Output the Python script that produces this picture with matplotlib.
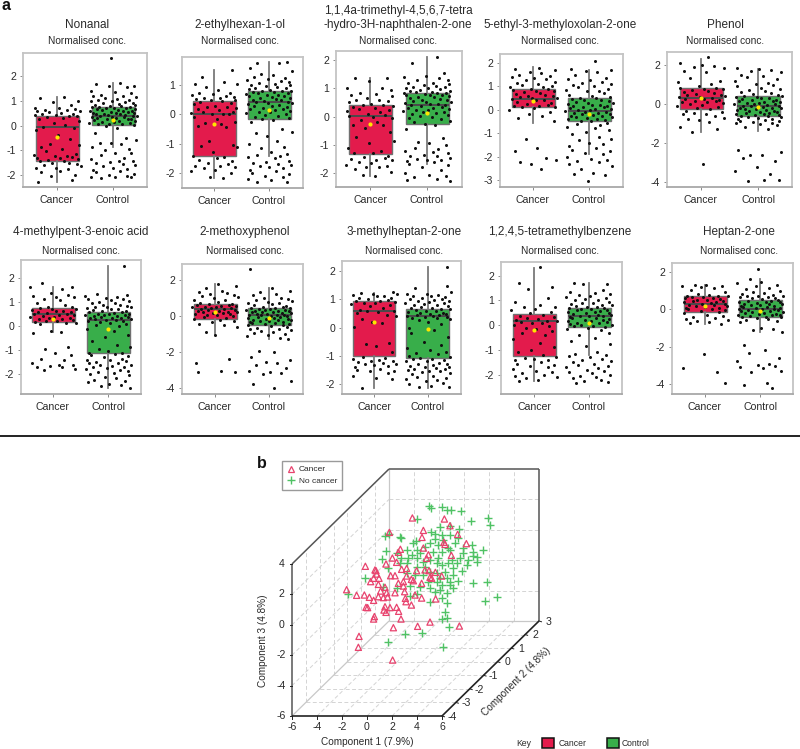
import matplotlib
matplotlib.use('Agg')
import matplotlib.pyplot as plt
from matplotlib.patches import Rectangle
from matplotlib.lines import Line2D

plt.rcParams['font.family'] = ['Liberation Sans', 'DejaVu Sans']
plt.rcParams['axes.unicode_minus'] = False

W, H = 800, 749
RED = '#E31B4C'
GREEN = '#38AE4A'
TEXT = '#2a2a2a'

titles = ['Nonanal', '2-ethylhexan-1-ol',
          '1,1,4a-trimethyl-4,5,6,7-tetra\n-hydro-3H-naphthalen-2-one',
          '5-ethyl-3-methyloxolan-2-one', 'Phenol',
          '4-methylpent-3-enoic acid', '2-methoxyphenol', '3-methylheptan-2-one',
          '1,2,4,5-tetramethylbenzene', 'Heptan-2-one']
groups = ['Cancer', 'Control']

# box stats, one value per panel
cancer_q1 = [-1.43, -1.41, -1.31, 0.11, -0.24, 0.17, -0.15, -1.01, -1.26, -0.13]
cancer_med = [-0.05, 0.0, 0.03, 0.46, 0.29, 0.51, 0.39, 0.59, 0.15, 0.32]
cancer_q3 = [0.40, 0.45, 0.42, 0.88, 0.82, 0.75, 0.67, 0.94, 0.44, 0.71]
cancer_lo = [-2.27, -2.18, -2.11, -0.57, -1.45, -0.26, -1.08, -2.14, -2.27, -0.79]
cancer_hi = [1.17, 1.53, 1.38, 1.81, 2.34, 1.65, 1.78, 1.21, 2.30, 1.34]
cancer_mean = [-0.47, -0.32, -0.25, 0.37, 0.29, 0.29, 0.22, 0.18, -0.19, 0.18]
control_q1 = [0.04, -0.14, -0.27, -0.50, -0.62, -1.14, -0.48, -1.08, -0.09, -0.39]
control_med = [0.39, 0.43, 0.42, -0.04, -0.10, 0.26, 0.07, 0.42, 0.35, 0.04]
control_q3 = [0.77, 0.81, 0.83, 0.50, 0.44, 0.61, 0.45, 0.66, 0.71, 0.50]
control_lo = [-0.85, -1.44, -1.66, -1.89, -1.38, -2.58, -1.28, -2.14, -1.19, -1.20]
control_hi = [1.72, 1.80, 2.11, 1.68, 1.83, 2.52, 1.56, 2.15, 1.69, 1.63]
control_mean = [0.22, 0.15, 0.12, -0.19, -0.14, -0.12, -0.13, -0.07, 0.08, -0.09]

yticks = [[-2, -1, 0, 1, 2], [-2, -1, 0, 1], [-2, -1, 0, 1, 2], [-3, -2, -1, 0, 1, 2], [-4, -2, 0, 2],
          [-2, -1, 0, 1, 2], [-4, -2, 0, 2], [-2, -1, 0, 1, 2], [-2, -1, 0, 1, 2], [-4, -2, 0, 2]]

# measured dots
nonanal_cancer = [1.17, 1.1, 1.0, .97, .85, .72, .7, .68, .65, .62, .6, .58, .55, .5, .48, .45, .43, .41, .4, .38,
                  .35, .3, .25, .18, .1, .02, -.04, -.08, -.2, -.4, -.55, -.75, -.8, -.88, -.95, -1.05, -1.15, -1.2,
                  -1.22, -1.25, -1.28, -1.3, -1.32, -1.35, -1.38, -1.42, -1.45, -1.5, -1.52, -1.55, -1.6, -1.65,
                  -1.7, -1.72, -1.78, -1.85, -1.9, -2.0, -2.05, -2.2, -2.28]
nonanal_control = [1.72, 1.68, 1.62, 1.6, 1.55, 1.4, 1.35, 1.32, 1.25, 1.2, 1.18, 1.15, 1.1, 1.08, 1.05, 1.03, 1.0,
                   .98, .95, .92, .9, .88, .85, .82, .8, .78, .76, .75, .74, .72, .7, .7, .68, .66, .65, .62, .6, .6,
                   .58, .55, .55, .52, .5, .5, .48, .46, .45, .44, .42, .4, .4, .38, .36, .35, .33, .32, .3, .28, .26,
                   .25, .22, .2, .18, .15, .13, .12, .1, .08, .06, .05, .03, 0, -.1, -.3, -.5, -.6, -.7, -.72, -.75,
                   -.85, -.95, -1.0, -1.1, -1.12, -1.2, -1.3, -1.35, -1.42, -1.45, -1.48, -1.5, -1.55, -1.6, -1.65,
                   -1.7, -1.75, -1.8, -1.85, -1.9, -1.95, -2.0, -2.05, -2.08, -2.1, -2.1, -2.12]
ethylhexanol_cancer = [1.53, 1.3, 1.1, 1.05, 1.03, .95, .85, .75, .72, .7, .68, .65, .6, .58, .55, .52, .5, .48, .45,
                       .42, .38, .35, .3, .27, .25, .22, .18, .15, .1, .08, .05, .03, .02, 0, -.1, -.15, -.25, -.3,
                       -.32, -.4, -.42, -.9, -1.05, -1.08, -1.1, -1.3, -1.42, -1.45, -1.5, -1.55, -1.6, -1.65, -1.7,
                       -1.75, -1.78, -1.8, -1.85, -1.9, -1.95, -2.0, -2.15, -2.18]
ethylhexanol_control = [1.8, 1.78, 1.75, 1.6, 1.5, 1.4, 1.35, 1.3, 1.25, 1.2, 1.18, 1.15, 1.1, 1.08, 1.05, 1.02, 1.0,
                        .98, .95, .92, .9, .88, .85, .82, .8, .8, .78, .76, .74, .72, .7, .68, .66, .65, .63, .6, .58,
                        .55, .52, .5, .48, .45, .44, .42, .4, .38, .35, .33, .3, .28, .25, .22, .2, .18, .15, .12, .1,
                        .08, .05, .02, -.02, -.05, -.08, -.12, -.15, -.18, -.25, -.5, -.6, -.65, -.75, -.9, -1.0, -1.1,
                        -1.15, -1.3, -1.35, -1.38, -1.42, -1.45, -1.5, -1.6, -1.62, -1.65, -1.7, -1.72, -1.75, -1.8,
                        -1.85, -1.9, -1.95, -2.0, -2.05, -2.1, -2.15, -2.2, -2.25, -2.3, -2.32]
naphthalenone_cancer = [1.38, 1.35, 1.25, 1.02, 1.0, .95, .85, .8, .75, .72, .65, .6, .58, .55, .5, .45, .42, .4, .38,
                        .35, .3, .28, .25, .2, .15, .1, .05, .03, 0, -.05, -.12, -.2, -.28, -.3, -.4, -.55, -.72, -.85,
                        -.92, -1.1, -1.2, -1.28, -1.3, -1.38, -1.42, -1.45, -1.5, -1.52, -1.55, -1.6, -1.65, -1.7, -1.75,
                        -1.78, -1.8, -1.85, -1.95, -2.05, -2.11]
naphthalenone_control = [1.9, 1.55, 1.45, 1.4, 1.35, 1.3, 1.28, 1.2, 1.18, 1.15, 1.1, 1.08, 1.05, 1.03, 1.02, 1.0, .98,
                         .95, .92, .9, .88, .86, .85, .83, .82, .8, .78, .76, .75, .72, .7, .68, .65, .62, .6, .58, .55,
                         .52, .5, .48, .45, .43, .42, .4, .38, .35, .32, .3, .28, .25, .22, .2, .18, .15, .12, .1, .05,
                         .02, 0, -.05, -.1, -.15, -.2, -.25, -.28, -.45, -.75, -.9, -.95, -1.0, -1.1, -1.15, -1.2, -1.25,
                         -1.3, -1.35, -1.38, -1.4, -1.45, -1.5, -1.52, -1.55, -1.58, -1.62, -1.66, -1.7, -1.78, -1.9,
                         -2.0, -2.05, -2.1, -2.15, -2.2, -2.25, -2.28]
oxolanone_cancer = [1.8, 1.75, 1.68, 1.6, 1.55, 1.5, 1.45, 1.4, 1.35, 1.3, 1.25, 1.2, 1.15, 1.1, 1.05, 1.02, .98, .95,
                    .9, .88, .85, .82, .8, .75, .72, .68, .65, .6, .58, .55, .5, .48, .46, .42, .4, .35, .3, .25, .2,
                    .18, .15, .12, .1, .08, 0, -.08, -.2, -.25, -.35, -.5, -1.27, -1.65, -1.75, -2.08, -2.15, -2.25,
                    -2.3, -2.55]
oxolanone_control = [2.1, 1.75, 1.7, 1.65, 1.6, 1.5, 1.35, 1.3, 1.25, 1.2, 1.15, 1.1, 1.05, 1.0, .95, .9, .85, .8, .78,
                     .72, .65, .6, .55, .5, .48, .45, .42, .4, .38, .35, .3, .28, .25, .22, .2, .18, .15, .12, .1, .08,
                     .05, .02, 0, -.03, -.05, -.08, -.1, -.12, -.15, -.18, -.2, -.22, -.25, -.28, -.3, -.32, -.35, -.38,
                     -.4, -.45, -.48, -.5, -.55, -.6, -.65, -.72, -.8, -.88, -.95, -1.05, -1.15, -1.25, -1.3, -1.4, -1.45,
                     -1.55, -1.62, -1.7, -1.75, -1.85, -1.9, -2.0, -2.1, -2.15, -2.2, -2.25, -2.3, -2.4, -2.55, -2.7,
                     -2.75, -2.8, -3.05]
phenol_cancer = [2.1, 2.0, 1.95, 1.9, 1.85, 1.7, 1.65, 1.35, 1.2, 1.15, 1.05, .95, .85, .82, .78, .75, .7, .65, .6,
                 .58, .52, .48, .45, .4, .38, .35, .3, .28, .25, .2, .18, .15, .12, .1, .05, 0, -.05, -.1, -.15, -.2,
                 -.25, -.35, -.4, -.45, -.5, -.52, -.6, -.7, -.75, -.82, -.9, -1.2, -1.3, -1.45, -3.1]
phenol_control = [1.85, 1.8, 1.75, 1.7, 1.65, 1.5, 1.45, 1.4, 1.3, 1.2, 1.1, 1.05, 1.0, .95, .85, .8, .72, .65, .6, .55,
                  .5, .46, .44, .42, .38, .35, .32, .3, .25, .22, .2, .18, .15, .12, .1, .08, .05, .02, 0, -.02, -.05,
                  -.08, -.1, -.12, -.15, -.18, -.2, -.22, -.25, -.28, -.3, -.32, -.35, -.38, -.4, -.42, -.45, -.48, -.5,
                  -.52, -.55, -.58, -.6, -.62, -.65, -.68, -.7, -.75, -.78, -.8, -.85, -.88, -.9, -.95, -1.0, -1.05, -1.1,
                  -1.2, -1.3, -2.35, -2.45, -2.6, -2.62, -2.8, -2.92, -3.25, -3.45, -3.6, -3.9, -3.95, -3.9]
methylpentenoic_cancer = [1.82, 1.65, 1.62, 1.55, 1.4, 1.3, 1.25, 1.22, 1.2, 1.15, 1.1, .95, .9, .82, .8, .76, .72, .7,
                          .68, .65, .62, .6, .58, .55, .52, .5, .48, .45, .42, .4, .38, .35, .32, .3, .28, .25, .22, .2,
                          .18, .15, .12, .1, -.2, -.25, -.28, -.85, -.95, -1.1, -1.2, -1.35, -1.4, -1.55, -1.6, -1.62,
                          -1.65, -1.7, -1.72, -1.78, -1.82]
methylpentenoic_control = [1.35, 1.3, 1.25, 1.2, 1.18, 1.15, 1.12, 1.1, 1.05, 1.0, .98, .95, .9, .88, .85, .82, .8, .78,
                           .75, .72, .7, .68, .65, .62, .6, .58, .55, .52, .5, .5, .48, .46, .45, .43, .42, .4, .38, .36,
                           .35, .33, .3, .28, .26, .25, .22, .2, .18, .15, .1, .05, 0, -.1, -.2, -.35, -.45, -.6, -.78,
                           -.85, -.95, -1.05, -1.1, -1.12, -1.15, -1.2, -1.25, -1.3, -1.35, -1.4, -1.42, -1.45, -1.5,
                           -1.52, -1.55, -1.6, -1.62, -1.65, -1.7, -1.72, -1.75, -1.8, -1.82, -1.85, -1.9, -1.95, -2.0,
                           -2.05, -2.1, -2.15, -2.25, -2.3, -2.35, -2.4, -2.45, -2.5, -2.58]
methoxyphenol_cancer = [1.78, 1.65, 1.55, 1.4, 1.35, 1.3, 1.2, 1.15, 1.1, 1.05, .98, .92, .88, .8, .72, .68, .65, .62, .6,
                        .58, .55, .52, .5, .48, .45, .42, .4, .38, .35, .32, .3, .28, .25, .22, .2, .18, .15, .12, .1,
                        .08, .05, 0, -.05, -.1, -.15, -.2, -.28, -.35, -.42, -.5, -.62, -.9, -1.08, -2.4, -2.6, -3.05,
                        -3.1, -3.1]
methoxyphenol_control = [1.55, 1.4, 1.35, 1.25, 1.15, 1.0, .98, .95, .9, .85, .8, .75, .7, .65, .6, .55, .5, .48, .46,
                         .44, .42, .4, .38, .36, .35, .33, .3, .28, .26, .25, .22, .2, .18, .15, .12, .1, .08, .06, .05,
                         .03, 0, -.02, -.05, -.08, -.1, -.12, -.15, -.18, -.2, -.22, -.25, -.28, -.3, -.32, -.35, -.38,
                         -.4, -.42, -.45, -.48, -.5, -.55, -.6, -.65, -.7, -.75, -.8, -.85, -.9, -.95, -1.0, -1.05, -1.1,
                         -1.2, -1.28, -1.95, -2.0, -2.3, -2.45, -2.55, -2.6, -2.75, -2.9, -3.05, -3.1, -3.2, -3.25, -3.6,
                         -3.8, -4.0]
methylheptanone_cancer = [1.25, 1.22, 1.2, 1.18, 1.15, 1.12, 1.1, 1.05, 1.03, 1.0, .98, .95, .92, .9, .88, .85, .82, .8,
                          .75, .7, .62, .6, .58, .55, .52, .45, .4, .3, .2, .15, .02, -.55, -.6, -.65, -.85, -1.05, -1.08,
                          -1.1, -1.15, -1.18, -1.2, -1.22, -1.25, -1.28, -1.3, -1.32, -1.35, -1.4, -1.45, -1.5, -1.52,
                          -1.55, -1.6, -1.7, -1.78, -1.82, -2.14]
methylheptanone_control = [1.45, 1.38, 1.25, 1.2, 1.18, 1.15, 1.12, 1.1, 1.08, 1.05, 1.02, 1.0, .98, .95, .92, .9, .88,
                           .85, .82, .8, .78, .75, .72, .7, .68, .66, .65, .63, .6, .58, .55, .52, .5, .48, .46, .45, .43,
                           .42, .4, .38, .36, .35, .33, .3, .25, .2, .12, 0, -.1, -.2, -.35, -.5, -.62, -.72, -.8, -.85, -.9,
                           -.95, -1.0, -1.05, -1.08, -1.1, -1.12, -1.15, -1.18, -1.2, -1.25, -1.28, -1.3, -1.32, -1.35, -1.38,
                           -1.4, -1.42, -1.45, -1.48, -1.5, -1.52, -1.55, -1.58, -1.6, -1.65, -1.7, -1.75, -1.78, -1.82,
                           -1.85, -1.88, -1.95, -2.0, -2.05, -2.1, -2.12]
tetramethylbenzene_cancer = [1.7, 1.55, 1.45, 1.1, .95, .8, .75, .72, .65, .6, .55, .48, .42, .38, .32, .28, .25, .2,
                             .18, .15, .12, .1, .08, .02, -.05, -.1, -.15, -.22, -.3, -.4, -.55, -.72, -.9, -1.0, -1.08,
                             -1.2, -1.28, -1.32, -1.35, -1.4, -1.42, -1.5, -1.55, -1.6, -1.65, -1.7, -1.78, -1.85, -1.88,
                             -1.95, -2.0, -2.05, -2.1, -2.15, -2.2, -2.27]
tetramethylbenzene_control = [1.69, 1.68, 1.65, 1.4, 1.35, 1.3, 1.25, 1.2, 1.18, 1.15, 1.1, 1.05, 1.02, 1.0, .95, .9, .88,
                              .85, .82, .8, .78, .75, .72, .7, .68, .66, .65, .62, .6, .58, .55, .52, .5, .48, .45, .42,
                              .4, .38, .36, .35, .33, .3, .28, .25, .22, .2, .18, .15, .12, .1, .08, .05, .02, 0, -.02,
                              -.05, -.08, -.1, -.15, -.2, -.3, -.4, -.5, -.65, -.75, -.85, -1.1, -1.15, -1.2, -1.25, -1.3,
                              -1.35, -1.4, -1.45, -1.5, -1.55, -1.6, -1.65, -1.7, -1.75, -1.8, -1.85, -1.9, -1.95, -2.0,
                              -2.05, -2.1, -2.15, -2.2, -2.25, -2.3, -2.35]
heptanone_cancer = [1.34, 1.32, 1.28, 1.25, 1.2, 1.15, 1.05, .95, .85, .8, .75, .72, .7, .68, .65, .62, .6, .55, .52, .5,
                    .48, .45, .42, .4, .35, .32, .3, .25, .22, .2, .18, .15, .1, .08, .05, 0, -.03, -.08, -.12, -.2, -.28,
                    -.35, -.4, -.45, -.5, -.55, -.6, -.65, -.72, -.79, -2.4, -3.15, -3.35, -3.98]
heptanone_control = [1.63, 1.5, 1.4, 1.3, 1.25, 1.15, 1.1, 1.0, .95, .9, .85, .8, .75, .72, .7, .68, .65, .62, .6, .55,
                     .5, .48, .45, .42, .4, .38, .35, .32, .3, .28, .25, .22, .2, .18, .15, .12, .1, .08, .05, .02, 0,
                     -.02, -.05, -.08, -.1, -.12, -.15, -.18, -.2, -.22, -.25, -.28, -.3, -.32, -.35, -.38, -.4, -.42, -.45,
                     -.5, -.55, -.6, -.65, -1.0, -1.05, -1.1, -1.2, -1.9, -2.2, -2.35, -2.6, -2.75, -2.95, -3.0, -3.05,
                     -3.1, -3.15, -3.3, -3.35, -3.95, -4.05, -4.25]

cancer_dots = [nonanal_cancer, ethylhexanol_cancer, naphthalenone_cancer, oxolanone_cancer, phenol_cancer,
               methylpentenoic_cancer, methoxyphenol_cancer, methylheptanone_cancer, tetramethylbenzene_cancer,
               heptanone_cancer]
control_dots = [nonanal_control, ethylhexanol_control, naphthalenone_control, oxolanone_control, phenol_control,
                methylpentenoic_control, methoxyphenol_control, methylheptanone_control, tetramethylbenzene_control,
                heptanone_control]

# sideways spread of the dots, shared by the panels
jitter = [.12, -.31, .37, -.08, .25, -.39, .03, .33, -.22, .18, -.35, .41, -.14, .07, -.27, .29, -.02, -.4, .21, .36,
          -.18, .1, -.33, .39, -.06, .15, -.25, .31, -.37, .01, .23, -.12, .4, -.29, .09, -.2, .34, -.41, .17, -.04,
          .27, -.36, .05, .38, -.16, .13, -.3, .22, -.09, .35, -.24, .42, -.01, -.38, .19, .06, -.28, .32, -.11, .26,
          -.34, .11, .39, -.19, .02, -.42, .3, -.07, .16, -.26, .37, -.13, .08, -.32, .24, .41, -.23, -.03, .14, -.37,
          .28, -.15, .04, .33, -.21, .2, -.39, .1, .36, -.05, -.3, .17, .4, -.17, .0, .25, -.35]

# dots that sit well clear of the rest: panel, group position, value
stray_panel = [0, 2, 4, 5, 6, 7, 8, 9]
stray_x = [1.96, 2.17, 1.12, 2.29, 1.65, 2.35, 1.11, 1.96]
stray_y = [2.72, 2.12, 2.4, 2.52, 2.6, 2.15, 2.35, 2.2]

cancer_c1 = [3.63, 6.19, 6.64, 4.51, 1.79, 7.25, 4.40, 6.16, 7.95, 6.24, 4.51, 2.67, 2.51, 4.91, 6.75, 2.03, 4.77, 2.37,
             1.52, -.13, .64, .72, 2.77, 3.17, 3.97, 4.64, 4.96, 5.47, 5.97, .77, .53, .96, 1.89, 2.24, 3.17, 5.04, 5.17,
             .29, .91, 2.51, 2.91, 3.55, 3.71, 4.37, 1.44, 2.91, -1.63, 1.09, 1.57, 2.24, 3.01, 3.84, -.83, -.21, .19,
             .91, 1.31, 1.65, 3.07, 4.37, 5.49, .53, 3.12, 3.55, -.08, .05, 1.44, 1.84, 2.37, 1.36, 1.52, 2.53, .59, .53,
             2.72, 4.05, 5.04, 7.39, 2.11, -.64, -.69, 2.05]
cancer_c3 = [7.03, 6.96, 6.52, 6.21, 6.08, 5.95, 5.75, 5.43, 5.34, 5.29, 5.05, 4.97, 4.77, 4.61, 4.57, 4.39, 4.37, 4.11,
             4.0, 3.85, 3.61, 3.56, 3.65, 3.71, 3.56, 3.61, 3.56, 3.45, 3.21, 3.34, 3.06, 3.06, 3.23, 3.23, 3.21, 3.12, 3.06,
             2.84, 2.66, 2.73, 2.84, 2.99, 2.9, 2.73, 2.47, 2.55, 2.31, 2.22, 2.11, 2.11, 2.18, 1.96, 1.94, 1.96, 1.81,
             1.85, 1.79, 1.83, 1.74, 1.76, 1.7, 1.61, 1.52, 1.3, 1.15, 1.13, 1.19, 1.13, 1.15, .97, .82, .89, .54, .38,
             .38, -.1, .18, -.08, -.19, -.76, -1.48, -2.32]
control_c1 = [4.93, 5.09, 6.0, 6.43, 6.75, 7.55, 9.68, 9.87, 3.97, 8.29, 6.67, 5.84, 7.39, 5.12, 1.44, 1.73, 2.64, 2.69,
              3.92, 3.71, 5.44, 5.97, 6.64, 7.31, 5.44, 6.11, 7.04, 8.43, 5.04, 5.71, 6.51, 7.71, 4.64, 3.97, 1.52, 3.17,
              2.37, 3.57, 4.24, 5.31, 5.97, 6.64, 7.71, 8.51, 9.25, 8.51, 2.69, 3.25, 1.23, 3.97, 5.04, 5.71, 6.77, 7.44,
              8.11, 8.77, 1.71, 2.64, 3.17, 4.51, 5.57, 6.51, 7.17, 7.97, 8.77, 3.97, 4.64, 5.97, 6.91, 7.57, -.16, 5.04,
              5.57, 6.24, 6.91, 3.17, 3.84, 4.51, 5.84, 6.37, 6.64, 7.31, 8.45, 9.6, 5.57, 4.91, 4.24, 3.44, 5.97, 6.64,
              5.04, 5.84, 6.91, -1.55, 3.97, 3.44, 5.44, 6.37, 5.97, 10.37, 9.44, 5.04, 6.37, 6.24, 6.37, 5.97, 6.59, 3.01,
              4.4, 1.71, 6.11, 1.31, 2.37]
control_c3 = [7.84, 7.66, 7.77, 7.53, 7.53, 7.49, 7.05, 6.59, 6.94, 6.83, 6.48, 6.41, 6.3, 6.13, 5.87, 5.98, 5.75, 5.69,
              5.53, 5.4, 5.98, 5.91, 5.91, 5.69, 5.62, 5.58, 5.36, 5.25, 5.36, 5.25, 5.03, 5.03, 5.1, 4.92, 4.88, 4.92,
              4.7, 4.59, 4.7, 4.81, 4.81, 4.92, 4.7, 4.81, 4.92, 4.53, 4.37, 4.42, 4.33, 4.37, 4.26, 4.37, 4.26, 4.37,
              4.26, 4.48, 3.71, 4.04, 4.04, 4.15, 4.04, 4.04, 4.04, 3.94, 4.15, 3.82, 3.82, 3.94, 3.71, 3.56, 3.06, 3.5,
              3.39, 3.5, 3.28, 3.39, 3.28, 3.28, 3.06, 3.06, 2.84, 2.88, 2.77, 2.79, 2.84, 2.84, 2.51, 2.55, 2.62, 2.62,
              2.4, 2.29, 2.4, 2.05, 2.03, 1.92, 2.18, 2.07, 1.74, 1.83, 1.59, 1.52, 1.41, .82, .43, .38, -.17, -.6, -.56,
              -1.13, -1.46, 2.51, 2.4]

c1_ticks = [-6, -4, -2, 0, 2, 4, 6]
c2_ticks = [-4, -3, -2, -1, 0, 1, 2, 3]
c3_ticks = [-6, -4, -2, 0, 2, 4]

# pixel boxes of the ten panels: left, top, right, bottom
panel_boxes = [(23, 53, 147, 187), (182, 57, 303, 188), (336, 51, 462, 187), (500, 54, 623, 187), (667, 52, 792, 187),
               (21, 260, 141, 394), (182, 264, 303, 394), (342, 261, 461, 394), (501, 262, 622, 394), (672, 263, 793, 394)]
panel_ylims = [(-2.49, 2.94), (-2.52, 1.97), (-2.49, 2.32), (-3.3, 2.38), (-4.27, 2.68),
               (-2.83, 2.76), (-4.35, 2.9), (-2.35, 2.35), (-2.78, 2.55), (-4.55, 2.5)]
group_centres = [(57, 113), (214, 269), (370, 427), (533, 589), (701, 758),
                 (53, 108), (215, 269), (374, 428), (534, 589), (705, 760)]
title_x = [87, 240, 398, 560, 725, 81, 245, 404, 560, 739]


def add_axes_px(fig, left, top, right, bottom):
    return fig.add_axes([left / W, 1 - bottom / H, (right - left) / W, (bottom - top) / H])


def draw_panel(fig, i):
    left, top, right, bottom = panel_boxes[i]
    ax = add_axes_px(fig, left, top, right, bottom)
    cx1, cx2 = group_centres[i]
    unit = float(cx2 - cx1)
    ax.set_xlim(1 - (cx1 - left) / unit, 2 + (right - cx2) / unit)
    ax.set_ylim(*panel_ylims[i])

    stats = [
        dict(med=cancer_med[i], q1=cancer_q1[i], q3=cancer_q3[i], whislo=cancer_lo[i], whishi=cancer_hi[i], fliers=[]),
        dict(med=control_med[i], q1=control_q1[i], q3=control_q3[i], whislo=control_lo[i], whishi=control_hi[i], fliers=[]),
    ]
    parts = ax.bxp(stats, positions=[1, 2], widths=43 / unit, patch_artist=True, showcaps=False, showfliers=False,
                   manage_ticks=False,
                   boxprops=dict(edgecolor='#707070', linewidth=1.0),
                   whiskerprops=dict(color='#7a7a7a', linewidth=1.3),
                   medianprops=dict(color='#4a4a4a', linewidth=1.4))
    parts['boxes'][0].set_facecolor(RED)
    parts['boxes'][1].set_facecolor(GREEN)

    for pos, dots in ((1, cancer_dots[i]), (2, control_dots[i])):
        xs = [pos + jitter[(k + i * 7) % len(jitter)] for k in range(len(dots))]
        ax.scatter(xs, dots, s=4.8, color='#111111', linewidths=0, zorder=4)
    for p, x, y in zip(stray_panel, stray_x, stray_y):
        if p == i:
            ax.scatter([x], [y], s=4.8, color='#111111', linewidths=0, zorder=4)
    ax.scatter([1, 2], [cancer_mean[i], control_mean[i]], s=9, color='#FFE600', linewidths=0, zorder=5)

    for side in ax.spines.values():
        side.set_color('#c4c4c4')
        side.set_linewidth(1.3)
    ax.spines['bottom'].set_color('#a8a8a8')
    ax.set_xticks([1, 2], groups)
    ax.set_yticks(yticks[i])
    ax.tick_params(axis='both', length=2, width=0.6, color='#777777', labelsize=7.6, labelcolor=TEXT, pad=3)
    ax.tick_params(axis='x', pad=4)

    row1 = i < 5
    title_y = 25 if row1 else 232
    if '\n' in titles[i]:
        title_y = 18
    fig.text(title_x[i] / W, 1 - title_y / H, titles[i], ha='center', va='center', fontsize=8.5, color=TEXT,
             linespacing=1.12)
    sub_y = 41.5 if row1 else 251.5
    fig.text(title_x[i] / W, 1 - sub_y / H, 'Normalised conc.', ha='center', va='center', fontsize=7.3, color=TEXT)


# oblique box of panel b: front plane in units of c1 and c3, depth along c2
SHIFT_C1 = 97 / 12.5
SHIFT_C3 = 95 / 15.2


def to_plane(c1, c2, c3):
    depth = (c2 + 4) / 7.0
    return c1 + depth * SHIFT_C1, c3 + depth * SHIFT_C3


def edge(ax, a, b, **style):
    xa, ya = to_plane(*a)
    xb, yb = to_plane(*b)
    ax.plot([xa, xb], [ya, yb], solid_capstyle='butt', **style)


def draw_scatter_box(fig):
    left, top, right, bottom = 262, 460, 560, 748
    ax = add_axes_px(fig, left, top, right, bottom)
    ax.set_xlim(-6 + (left - 292) / 12.5, -6 + (right - 292) / 12.5)
    ax.set_ylim(-6 + (716 - bottom) / 15.2, -6 + (716 - top) / 15.2)
    ax.axis('off')

    dash = dict(color='#d4d4d4', lw=0.7, ls=(0, (4, 2.5)), zorder=1)
    for v in c1_ticks[1:-1]:
        edge(ax, (v, 3, -6), (v, 3, 4), **dash)
        edge(ax, (v, -4, -6), (v, 3, -6), **dash)
    for v in c3_ticks[1:-1]:
        edge(ax, (-6, 3, v), (6, 3, v), **dash)
        edge(ax, (-6, -4, v), (-6, 3, v), **dash)
    for v in c2_ticks[1:-1]:
        edge(ax, (-6, v, -6), (6, v, -6), **dash)
        edge(ax, (-6, v, -6), (-6, v, 4), **dash)

    soft = dict(color='#c8c8c8', lw=0.9, zorder=1)
    edge(ax, (-6, -4, -6), (-6, 3, -6), **soft)
    edge(ax, (-6, 3, -6), (-6, 3, 4), **soft)
    edge(ax, (-6, 3, -6), (6, 3, -6), **soft)

    dark = dict(color='#555555', lw=1.1, zorder=2)
    edge(ax, (-6, -4, -6), (-6, -4, 4), **dark)
    edge(ax, (-6, -4, 4), (-6, 3, 4), **dark)
    edge(ax, (-6, 3, 4), (6, 3, 4), **dark)
    edge(ax, (6, 3, 4), (6, 3, -6), **dark)
    black = dict(color='#222222', lw=1.2, zorder=2)
    edge(ax, (-6, -4, -6), (6, -4, -6), **black)
    edge(ax, (6, -4, -6), (6, 3, -6), **black)

    text_style = dict(fontsize=7.6, color=TEXT, ha='center', va='center')
    for v in c1_ticks:
        x, y = to_plane(v, -4, -6)
        ax.plot([x, x], [y, y - 0.2], color='#222222', lw=0.7)
        ax.text(x, y - 0.75, str(v), **text_style)
    for v in c3_ticks:
        x, y = to_plane(-6, -4, v)
        ax.plot([x - 0.2, x], [y, y], color='#222222', lw=0.7)
        ax.text(x - 0.85, y, str(v), **text_style)
    for v in c2_ticks:
        x, y = to_plane(6, v, -6)
        ax.plot([x, x + 0.2], [y, y - 0.05], color='#222222', lw=0.7)
        ax.text(x + 0.8, y - 0.05, str(v), **text_style)

    ax.scatter(control_c1, control_c3, marker='+', s=28, color='#4FC264', linewidths=1.0, zorder=3)
    ax.scatter(cancer_c1, cancer_c3, marker='^', s=20, facecolors='none', edgecolors='#E8436E', linewidths=0.9, zorder=4)

    handles = [Line2D([], [], marker='^', ls='', ms=5, mfc='none', mec='#E8436E', mew=0.9),
               Line2D([], [], marker='+', ls='', ms=6, mec='#4FC264', mew=1.0)]
    leg = fig.legend(handles, ['Cancer', 'No cancer'], loc='upper left', bbox_to_anchor=(282 / W, 1 - 461 / H),
                     fontsize=6.0, fancybox=False, framealpha=1, edgecolor='#9a9a9a', borderaxespad=0,
                     borderpad=0.55, labelspacing=0.45, handlelength=1.0, handletextpad=0.45, labelcolor=TEXT)
    leg.get_frame().set_linewidth(1.0)

    fig.text(367 / W, 1 - 742 / H, 'Component 1 (7.9%)', ha='center', va='center', fontsize=7.2, color=TEXT)
    fig.text(263 / W, 1 - 641 / H, 'Component 3 (4.8%)', ha='center', va='center', rotation=90, fontsize=7.2, color=TEXT)
    fig.text(516 / W, 1 - 682 / H, 'Component 2 (4.8%)', ha='center', va='center', rotation=45, fontsize=7.2, color=TEXT)


def draw_key(fig):
    fig.text(524 / W, 1 - 743 / H, 'Key', ha='center', va='center', fontsize=6.2, color=TEXT)
    for x, colour, label, label_x in ((542, RED, 'Cancer', 559), (607, GREEN, 'Control', 622)):
        fig.add_artist(Rectangle((x / W, 1 - 748 / H), 11.5 / W, 10 / H, transform=fig.transFigure,
                                 facecolor=colour, edgecolor='#111111', linewidth=1.1))
        fig.text(label_x / W, 1 - 743 / H, label, ha='left', va='center', fontsize=6.2, color=TEXT)


fig = plt.figure(figsize=(W / 100, H / 100), dpi=100)
for i in range(len(titles)):
    draw_panel(fig, i)
draw_scatter_box(fig)
draw_key(fig)

fig.text(2 / W, 1 - 6 / H, 'a', fontsize=11.5, fontweight='bold', ha='left', va='center', color='#111111')
fig.text(257 / W, 1 - 463 / H, 'b', fontsize=11.5, fontweight='bold', ha='left', va='center', color='#111111')
fig.add_artist(Line2D([0, 1], [1 - 436 / H, 1 - 436 / H], color='#111111', lw=1.3, transform=fig.transFigure))

fig.savefig('out.png', dpi=100)
